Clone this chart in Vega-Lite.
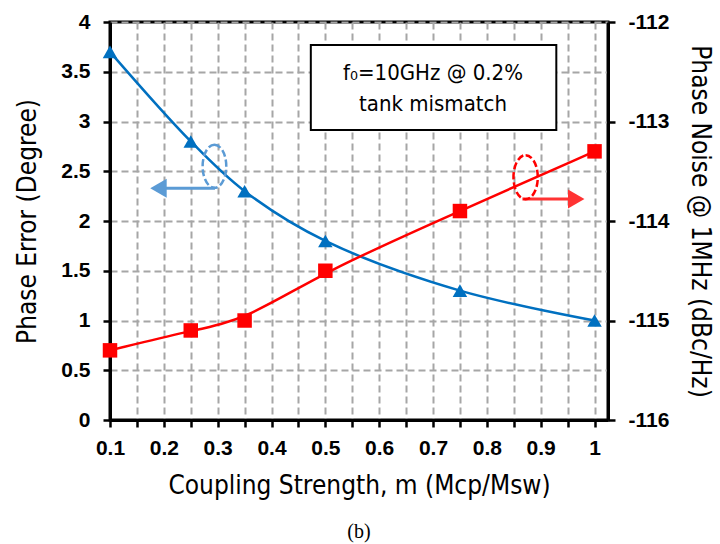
{
  "$schema": "https://vega.github.io/schema/vega-lite/v6.json",
  "width": 498,
  "height": 398,
  "autosize": {"type": "none"},
  "padding": {"left": 110, "top": 22, "right": 112, "bottom": 124},
  "background": "white",
  "config": {
    "view": {"stroke": "black", "strokeWidth": 3},
    "axis": {
      "domainColor": "black", "domainWidth": 3,
      "tickColor": "black", "tickWidth": 2.5, "tickSize": 7,
      "labelFont": "Liberation Sans", "labelFontWeight": "bold", "labelFontSize": 21, "labelColor": "black",
      "titleFont": "DejaVu Sans Condensed", "titleFontWeight": "normal", "titleFontSize": 26, "titleColor": "black",
      "gridColor": "#a6a6a6", "gridDash": [7, 4], "gridWidth": 2
    }
  },
  "title": {"text": "(b)", "orient": "bottom", "font": "Liberation Serif", "fontSize": 20, "fontWeight": "normal", "color": "black", "offset": 24},
  "datasets": {
    "blue": [
      {"m": 0.1, "pe": 3.7}, {"m": 0.25, "pe": 2.8}, {"m": 0.35, "pe": 2.3},
      {"m": 0.5, "pe": 1.8}, {"m": 0.75, "pe": 1.3}, {"m": 1.0, "pe": 1.0}
    ],
    "red": [
      {"m": 0.1, "pn": -115.3}, {"m": 0.25, "pn": -115.1}, {"m": 0.35, "pn": -115.0},
      {"m": 0.5, "pn": -114.5}, {"m": 0.75, "pn": -113.9}, {"m": 1.0, "pn": -113.3}
    ],
    "box": [{"m": 0.473, "m2": 0.929, "pe": 3.77, "pe2": 2.915}],
    "label": [
      {"m": 0.7, "pe": 3.49, "t": "f₀=10GHz @ 0.2%"},
      {"m": 0.7, "pe": 3.18, "t": "tank mismatch"}
    ],
    "blueShaft": [{"m": 0.295, "m2": 0.19, "pe": 2.33}],
    "blueHead": [{"m": 0.19, "pe": 2.33}],
    "blueRing": [{"m": 0.294, "pe": 2.55}],
    "redShaft": [{"m": 0.866, "m2": 0.96, "pn": -113.78}],
    "redHead": [{"m": 0.966, "pn": -113.78}],
    "redRing": [{"m": 0.872, "pn": -113.56}]
  },
  "encoding": {
    "x": {
      "field": "m", "type": "quantitative",
      "scale": {"domain": [0.1, 1.025], "nice": false, "zero": false},
      "axis": {
        "title": "Coupling Strength, m (Mcp/Msw)",
        "values": [0.1, 0.15, 0.2, 0.25, 0.3, 0.35, 0.4, 0.45, 0.5, 0.55, 0.6, 0.65, 0.7, 0.75, 0.8, 0.85, 0.9, 0.95, 1.0],
        "labelExpr": "round(datum.value*20)%2==0 ? format(datum.value, '.1~f') : ''",
        "labelPadding": 10, "titlePadding": 14, "labelFlush": false
      }
    }
  },
  "layer": [
    {
      "layer": [
        {
          "data": {"name": "box"},
          "mark": {"type": "rect", "fill": "white", "stroke": "black", "strokeWidth": 2},
          "encoding": {
            "x2": {"field": "m2"},
            "y": {"field": "pe", "type": "quantitative"},
            "y2": {"field": "pe2"}
          }
        },
        {
          "data": {"name": "label"},
          "mark": {"type": "text", "font": "DejaVu Sans Condensed", "fontSize": 22, "color": "black"},
          "encoding": {
            "y": {"field": "pe", "type": "quantitative"},
            "text": {"field": "t"}
          }
        },
        {
          "data": {"name": "blue"},
          "mark": {"type": "line", "color": "#0070C0", "strokeWidth": 2.5, "interpolate": "catmull-rom"},
          "encoding": {
            "y": {
              "field": "pe", "type": "quantitative",
              "scale": {"domain": [0, 4], "nice": false, "zero": false},
              "axis": {
                "title": "Phase Error (Degree)",
                "values": [0, 0.5, 1, 1.5, 2, 2.5, 3, 3.5, 4],
                "format": ".1~f", "labelPadding": 13, "titlePadding": 20
              }
            }
          }
        },
        {
          "data": {"name": "blue"},
          "mark": {"type": "point", "shape": "triangle-up", "filled": true, "color": "#0070C0", "size": 210, "opacity": 1},
          "encoding": {"y": {"field": "pe", "type": "quantitative"}}
        },
        {
          "data": {"name": "blueShaft"},
          "mark": {"type": "rule", "color": "#5B9BD5", "strokeWidth": 3},
          "encoding": {"x2": {"field": "m2"}, "y": {"field": "pe", "type": "quantitative"}}
        },
        {
          "data": {"name": "blueHead"},
          "mark": {"type": "point", "shape": "triangle-left", "filled": true, "color": "#5B9BD5", "size": 360, "opacity": 1},
          "encoding": {"y": {"field": "pe", "type": "quantitative"}}
        },
        {
          "data": {"name": "blueRing"},
          "mark": {"type": "point", "shape": "M0,-1 A0.55,1 0 1,1 0,1 A0.55,1 0 1,1 0,-1 Z", "filled": false, "stroke": "#5B9BD5", "strokeWidth": 2.5, "strokeDash": [7, 3], "size": 1850, "opacity": 1},
          "encoding": {"y": {"field": "pe", "type": "quantitative"}}
        }
      ]
    },
    {
      "layer": [
        {
          "data": {"name": "red"},
          "mark": {"type": "line", "color": "#FF0000", "strokeWidth": 2.5, "interpolate": "basis"},
          "encoding": {
            "y": {
              "field": "pn", "type": "quantitative",
              "scale": {"domain": [-116, -112], "nice": false, "zero": false},
              "axis": {
                "title": "Phase Noise @ 1MHz (dBc/Hz)", "orient": "right", "grid": false,
                "values": [-116, -115, -114, -113, -112],
                "labelExpr": "'' + datum.value", "labelPadding": 13, "titlePadding": 18
              }
            }
          }
        },
        {
          "data": {"name": "red"},
          "mark": {"type": "point", "shape": "square", "filled": true, "color": "#FF0000", "size": 210, "opacity": 1},
          "encoding": {"y": {"field": "pn", "type": "quantitative"}}
        },
        {
          "data": {"name": "redShaft"},
          "mark": {"type": "rule", "color": "#FF3333", "strokeWidth": 3},
          "encoding": {"x2": {"field": "m2"}, "y": {"field": "pn", "type": "quantitative"}}
        },
        {
          "data": {"name": "redHead"},
          "mark": {"type": "point", "shape": "triangle-right", "filled": true, "color": "#FF3333", "size": 360, "opacity": 1},
          "encoding": {"y": {"field": "pn", "type": "quantitative"}}
        },
        {
          "data": {"name": "redRing"},
          "mark": {"type": "point", "shape": "M0,-1 A0.55,1 0 1,1 0,1 A0.55,1 0 1,1 0,-1 Z", "filled": false, "stroke": "#FF0000", "strokeWidth": 2.5, "strokeDash": [7, 3], "size": 1950, "opacity": 1},
          "encoding": {"y": {"field": "pn", "type": "quantitative"}}
        }
      ]
    }
  ],
  "resolve": {"scale": {"y": "independent"}}
}
